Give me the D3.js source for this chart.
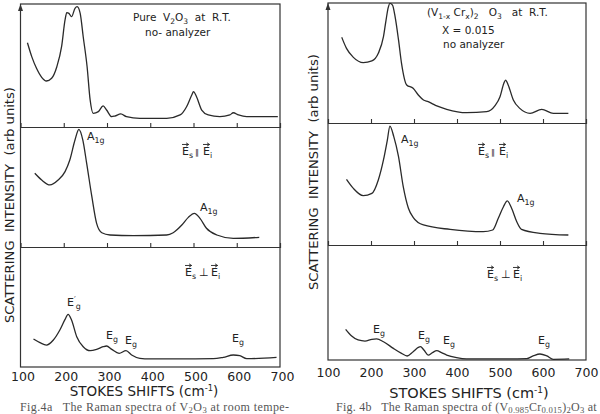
<!DOCTYPE html>
<html>
<head>
<meta charset="utf-8">
<script src="https://cdn.jsdelivr.net/npm/d3@7/dist/d3.min.js"></script>
<style>
  body { margin: 0; background: #fff; }
  svg { display: block; }
  text { font-family: "DejaVu Sans", sans-serif; fill: #222; white-space: pre; }
  .caption { font-family: "Liberation Serif", serif; fill: #555; }
</style>
</head>
<body>
<svg id="chart" width="600" height="414"></svg>
<script>
// Raman spectra: [stokes shift (cm-1), intensity (arb. units, 0-100 per sub panel)]
const v2o3NoAnalyzer = [
  [116, 68.5], [126, 57.2], [137, 47.7], [149, 40.4], [160, 37.4], [172, 39.6], [184, 49],
  [195, 65.3], [203, 87], [207, 93], [212, 92.4], [218, 89.7], [226, 96.5], [231, 97.8],
  [238, 92.4], [245, 73.4], [254, 49], [261, 22], [268, 11.1], [280, 12.5], [291, 17.1],
  [299, 13.8], [311, 8.4], [318, 8.9], [332, 10.6], [345, 8.4], [376, 7], [438, 7],
  [469, 9.8], [484, 16.5], [496, 26], [500, 28.7], [507, 24.6], [519, 13.8], [534, 9.8],
  [561, 8.4], [584, 9.8], [592, 11.6], [604, 9.8], [623, 8.4], [695, 8.4]
];
const v2o3Parallel = [
  [133, 61.4], [149, 55.8], [168, 51.7], [187, 55.8], [203, 62.8], [214, 72.5], [226, 89.2],
  [235, 98], [244, 89.2], [253, 69.7], [265, 41.9], [276, 19.7], [288, 11.9], [307, 10],
  [361, 9.4], [438, 10], [453, 11.9], [473, 18.3], [488, 24.7], [502, 28.1], [515, 23.9],
  [530, 15.6], [554, 10], [592, 7.2], [652, 8.1]
];
const v2o3Perp = [
  [130, 23.3], [145, 20.3], [160, 18.3], [176, 22.5], [191, 30.8], [203, 39.7], [210, 43.9],
  [218, 39.2], [230, 25.3], [245, 16.9], [261, 13.6], [276, 14.7], [291, 16.9], [299, 17.5],
  [311, 14.7], [328, 11.4], [344, 13.6], [357, 10], [376, 7.2], [399, 6.7], [546, 6.9],
  [569, 8.1], [592, 10], [607, 9.4], [623, 6.9], [692, 8.1]
];
const crNoAnalyzer = [
  [132, 71.4], [143, 62.2], [159, 54.7], [182, 50.3], [202, 51.7], [217, 58.1], [229, 71.9],
  [235, 85.8], [240, 96.1], [244, 99.7], [250, 98.3], [256, 88.6], [264, 69.2], [271, 49.7],
  [283, 31.7], [298, 28.9], [310, 23.3], [322, 19.2], [333, 17.8], [341, 16.4], [353, 14.2],
  [376, 11.4], [422, 8.6], [469, 9.4], [488, 14.2], [500, 21.9], [509, 33.1], [513, 35.8],
  [519, 31.7], [531, 19.2], [546, 12.2], [570, 8.1], [597, 11.4], [624, 8.1], [659, 8.1]
];
const crParallel = [
  [143, 53.8], [159, 46.4], [182, 40.4], [202, 42.3], [217, 53.3], [229, 69.7], [238, 86],
  [244, 97.5], [253, 88.8], [264, 72.4], [275, 47.8], [287, 30.1], [298, 22.7], [322, 16.4],
  [384, 12.8], [461, 10.9], [483, 12.3], [496, 21.9], [508, 31.4], [517, 36.1], [527, 30.1],
  [539, 19.1], [550, 12.8], [593, 9.6], [659, 8.2]
];
const crPerp = [
  [141, 26.7], [155, 20.9], [170, 17.4], [186, 16.5], [202, 18], [213, 18.3], [229, 15.9],
  [252, 10.1], [271, 5.8], [284, 3.5], [298, 7.2], [310, 11], [315, 11.6], [323, 8.7],
  [333, 4.3], [343, 6.4], [353, 8.1], [364, 6.4], [376, 4.3], [399, 2], [422, 0.9],
  [500, 0.9], [562, 1.2], [577, 3.5], [593, 5.2], [609, 3.5], [624, 0.6], [661, 0.9]
];

const xTicks = [100, 200, 300, 400, 500, 600, 700];
const innerTicks = [200, 300, 400, 500, 600];
const axisTitle = "STOKES SHIFTS (cm";
const yTitle = "SCATTERING  INTENSITY  (arb units)";

const svg = d3.select("#chart");

// write text with sub / sup parts: parts = [[string, ""|"sub"|"sup"], ...]
function richText(parent, x, y, parts, size, cls, subShift = 0.3) {
  const t = parent.append("text").attr("x", x).attr("y", y).attr("font-size", size);
  if (cls) t.attr("class", cls);
  let cur = 0;
  parts.forEach(([s, kind]) => {
    const target = kind === "sub" ? size * subShift : kind === "sup" ? -size * 0.4 : 0;
    t.append("tspan")
      .attr("dy", target - cur)
      .attr("font-size", kind ? size * 0.72 : size)
      .text(s);
    cur = target;
  });
  return t;
}

// E with a little vector arrow on top
function eVec(parent, x, y, sub, size) {
  richText(parent, x, y, [["E", ""], [sub, "sub"]], size);
  const w = size * 0.6;
  const yt = y - size * 0.73 - 2.5;
  parent.append("path")
    .attr("d", `M${x},${yt}H${x + w}M${x + w - 2.5},${yt - 1.6}L${x + w},${yt}L${x + w - 2.5},${yt + 1.6}`)
    .attr("fill", "none")
    .attr("stroke", "#222")
    .attr("stroke-width", 0.9);
}

function polLabel(parent, x, y, sym, gap) {
  eVec(parent, x, y, "s", 11);
  parent.append("text").attr("x", x + gap).attr("y", y)
    .attr("font-size", sym === "⊥" ? 11 : 8).text(sym);
  eVec(parent, x + gap + (sym === "⊥" ? 12 : 8), y, "i", 11);
}

function egLabel(parent, x, y, prime) {
  const parts = prime ? [["E", ""], ["′", "sup"], ["g", "sub"]] : [["E", ""], ["g", "sub"]];
  richText(parent, x, y, parts, 11);
}

function a1gLabel(parent, x, y) {
  richText(parent, x, y, [["A", ""], ["1g", "sub"]], 11);
}

const figures = [
  {
    range: [20.5, 280],
    rows: [4, 127, 247, 367],
    series: [v2o3NoAnalyzer, v2o3Parallel, v2o3Perp],
    tickPad: 5, tickDx: 2,
    title: { x: 144, y: 396, size: 13.5 },
    yLabel: { x: 14, y: 205 },
    notes: g => {
      richText(g, 133, 21, [["Pure  V", ""], ["2", "sub"], ["O", ""], ["3", "sub"], ["  at  R.T.", ""]], 10.5);
      g.append("text").attr("x", 145).attr("y", 36).attr("font-size", 10.5).text("no- analyzer");
      a1gLabel(g, 87, 140);
      polLabel(g, 182, 155, "∥", 13);
      a1gLabel(g, 200, 211);
      polLabel(g, 185, 276, "⊥", 14);
      egLabel(g, 67, 306, true);
      egLabel(g, 106, 339);
      egLabel(g, 125, 344);
      egLabel(g, 232, 342);
    },
    caption: { x: 20, y: 411, spacing: 0.4,
      parts: [["Fig.4a   The Raman spectra of V", ""], ["2", "sub"], ["O", ""], ["3", "sub"], [" at room tempe-", ""]] }
  },
  {
    range: [328, 586],
    rows: [3, 123, 245, 360],
    series: [crNoAnalyzer, crParallel, crPerp],
    tickPad: 8, tickDx: 0,
    title: { x: 469, y: 398, size: 14.5 },
    yLabel: { x: 318, y: 172 },
    notes: g => {
      richText(g, 427, 16, [["(V", ""], ["1-x", "sub"], [" Cr", ""], ["x", "sub"], [")", ""], ["2", "sub"],
        ["   O", ""], ["3", "sub"], ["   at  R.T.", ""]], 10.5);
      g.append("text").attr("x", 442).attr("y", 34).attr("font-size", 10.5).text("X = 0.015");
      g.append("text").attr("x", 443).attr("y", 48).attr("font-size", 10.5).text("no analyzer");
      a1gLabel(g, 401, 143);
      polLabel(g, 478, 155, "∥", 13);
      a1gLabel(g, 517, 202);
      polLabel(g, 487, 278, "⊥", 14);
      egLabel(g, 373, 333);
      egLabel(g, 418, 339);
      egLabel(g, 443, 344);
      egLabel(g, 538, 344);
    },
    caption: { x: 336, y: 411, spacing: 0.25,
      parts: [["Fig. 4b   The Raman spectra of (V", ""], ["0.985", "sub"], ["Cr", ""], ["0.015", "sub"], [")", ""],
        ["2", "sub"], ["O", ""], ["3", "sub"], [" at", ""]] }
  }
];

figures.forEach(f => {
  const x = d3.scaleLinear().domain([100, 700]).range(f.range);
  const g = svg.append("g");
  const [top, , , bottom] = f.rows;

  // frame
  g.append("rect")
    .attr("x", x(100)).attr("y", top)
    .attr("width", x(700) - x(100)).attr("height", bottom - top)
    .attr("fill", "none").attr("stroke", "#333").attr("stroke-width", 1.2);
  g.append("path")
    .attr("d", `M${x(100) - 2.5},${top + 7}L${x(100)},${top}L${x(100) + 2.5},${top + 7}Z`)
    .attr("fill", "#333");

  const line = y => d3.line()
    .x(d => x(d[0]))
    .y(d => y(d[1]))
    .curve(d3.curveMonotoneX);

  f.series.forEach((s, i) => {
    const y = d3.scaleLinear().domain([0, 100]).range([f.rows[i + 1], f.rows[i]]);
    if (i < 2) {
      const div = g.append("g")
        .attr("transform", `translate(0,${f.rows[i + 1]})`)
        .call(d3.axisTop(x).tickValues(innerTicks).tickSize(4).tickFormat(""));
      div.select(".domain").attr("stroke", "#333").attr("stroke-width", 1.2);
      div.selectAll(".tick line").attr("stroke", "#333").attr("stroke-width", 1.1);
    }
    g.append("path")
      .datum(s)
      .attr("d", line(y))
      .attr("fill", "none")
      .attr("stroke", "#2a2a2a")
      .attr("stroke-width", 1.3);
  });

  // bottom scale
  const ax = g.append("g")
    .attr("transform", `translate(0,${bottom})`)
    .call(d3.axisBottom(x).tickValues(xTicks).tickSize(0).tickPadding(f.tickPad));
  ax.select(".domain").remove();
  ax.selectAll("text")
    .attr("font-family", "DejaVu Sans, sans-serif")
    .attr("font-size", 12.5)
    .attr("fill", "#222")
    .attr("dx", f.tickDx);

  // x title
  const t = g.append("text")
    .attr("x", f.title.x).attr("y", f.title.y)
    .attr("text-anchor", "middle")
    .attr("font-size", f.title.size);
  t.append("tspan").text(axisTitle);
  t.append("tspan").attr("dy", -5).attr("font-size", f.title.size * 0.62).text("-1");
  t.append("tspan").attr("dy", 5).text(")");

  // y title
  g.append("text")
    .attr("transform", `translate(${f.yLabel.x},${f.yLabel.y}) rotate(-90)`)
    .attr("text-anchor", "middle")
    .attr("font-size", 13)
    .attr("textLength", 236)
    .attr("lengthAdjust", "spacingAndGlyphs")
    .text(yTitle);

  f.notes(g);

  richText(g, f.caption.x, f.caption.y, f.caption.parts, 12, "caption", 0.15)
    .attr("letter-spacing", f.caption.spacing);
});
</script>
</body>
</html>
